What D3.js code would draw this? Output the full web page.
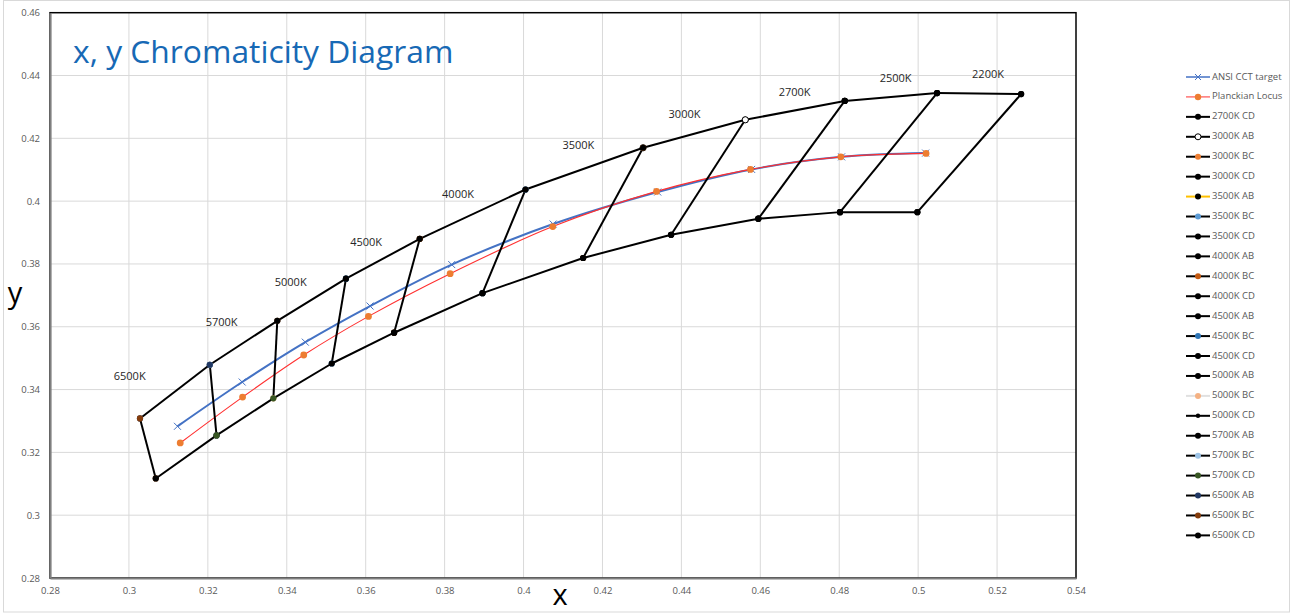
<!DOCTYPE html>
<html>
<head>
<meta charset="utf-8">
<script src="https://cdnjs.cloudflare.com/ajax/libs/d3/7.8.5/d3.min.js"></script>
<style>
  body { margin: 0; background: #fff; }
  svg { display: block; font-family: "Open Sans", sans-serif; }
</style>
</head>
<body>
<svg id="chart" width="1290" height="613"></svg>
<script>
// axis ticks
const xTicks = [0.28, 0.3, 0.32, 0.34, 0.36, 0.38, 0.4, 0.42, 0.44, 0.46, 0.48, 0.5, 0.52, 0.54]
const yTicks = [0.28, 0.3, 0.32, 0.34, 0.36, 0.38, 0.4, 0.42, 0.44, 0.46]

// ANSI CCT target (quadrangle centres), 6500K -> 2200K
const ansiX = [0.3123, 0.3287, 0.3447, 0.3611, 0.3818, 0.4075, 0.4340, 0.4578, 0.4806, 0.5019]
const ansiY = [0.3283, 0.3424, 0.3551, 0.3666, 0.3798, 0.3927, 0.4029, 0.4101, 0.4141, 0.4153]

// Planckian locus points
const plX = [0.3130, 0.3288, 0.3443, 0.3607, 0.3814, 0.4074, 0.4337, 0.4575, 0.4804, 0.5020]
const plY = [0.3230, 0.3376, 0.3510, 0.3633, 0.3769, 0.3919, 0.4031, 0.4101, 0.4141, 0.4152]

// quadrangle corners along the upper and lower boundary, cool -> warm
const topX = [0.3028, 0.3205, 0.3376, 0.3550, 0.3737, 0.4005, 0.4303, 0.4562, 0.4814, 0.5048, 0.5261]
const topY = [0.3308, 0.3479, 0.3619, 0.3753, 0.3880, 0.4037, 0.4170, 0.4259, 0.4319, 0.4344, 0.4341]
const botX = [0.3068, 0.3222, 0.3366, 0.3514, 0.3672, 0.3896, 0.4151, 0.4374, 0.4595, 0.4802, 0.4998]
const botY = [0.3117, 0.3254, 0.3372, 0.3483, 0.3581, 0.3707, 0.3819, 0.3893, 0.3944, 0.3965, 0.3965]

const cctNames = ["6500K", "5700K", "5000K", "4500K", "4000K", "3500K", "3000K", "2700K", "2500K", "2200K"]
const cctLabelX = [0.3002, 0.3235, 0.3410, 0.3601, 0.3834, 0.4139, 0.4408, 0.4687, 0.4943, 0.5177]
const cctLabelY = [0.3439, 0.3611, 0.3738, 0.3866, 0.4019, 0.4175, 0.4273, 0.4344, 0.4388, 0.4401]

// edge series, in drawing order (the first ones are not in the legend)
const hiddenSeries = ["2200K AB", "2200K BC", "2200K CD", "2200K DA", "2500K AB", "2500K BC", "2500K CD", "2700K AB", "2700K BC"]
const legendSeries = ["2700K CD", "3000K AB", "3000K BC", "3000K CD", "3500K AB", "3500K BC", "3500K CD",
  "4000K AB", "4000K BC", "4000K CD", "4500K AB", "4500K BC", "4500K CD", "5000K AB", "5000K BC", "5000K CD",
  "5700K AB", "5700K BC", "5700K CD", "6500K AB", "6500K BC", "6500K CD"]

const markerFill = {
  "3000K AB": "#ffffff", "3000K BC": "#ED7D31", "3500K BC": "#5B9BD5", "4000K BC": "#C55A11",
  "4500K BC": "#2E75B6", "5000K BC": "#F4B183", "5700K BC": "#9DC3E6", "5700K CD": "#385723",
  "6500K AB": "#203864", "6500K BC": "#843C0C"
}
const legendLine = { "3500K AB": "#FFC000", "5000K BC": "#E0E0E0" }

const W = 1290, H = 613
const svg = d3.select("#chart")

const x = d3.scaleLinear().domain([0.28, 0.54]).range([50, 1076])
const y = d3.scaleLinear().domain([0.28, 0.46]).range([578, 12.7])

// outer chart frame
svg.append("rect").attr("x", 3.5).attr("y", 0.5).attr("width", W - 4).attr("height", H - 1.5)
  .attr("fill", "#fff").attr("stroke", "#d9d9d9")

// gridlines
svg.append("g").selectAll("line").data(xTicks.slice(1, -1)).join("line")
  .attr("x1", d => x(d)).attr("x2", d => x(d)).attr("y1", y(0.46)).attr("y2", y(0.28))
  .attr("stroke", "#d9d9d9").attr("stroke-width", 1)
svg.append("g").selectAll("line").data(yTicks.slice(1, -1)).join("line")
  .attr("y1", d => y(d)).attr("y2", d => y(d)).attr("x1", x(0.28)).attr("x2", x(0.54))
  .attr("stroke", "#d9d9d9").attr("stroke-width", 1)

// plot border
svg.append("rect").attr("x", x(0.28)).attr("y", y(0.46))
  .attr("width", x(0.54) - x(0.28)).attr("height", y(0.28) - y(0.46))
  .attr("fill", "none").attr("stroke", "#000").attr("stroke-width", 1.5)

// axes
const xAxis = svg.append("g").attr("transform", `translate(0,${y(0.28)})`)
  .call(d3.axisBottom(x).tickValues(xTicks).tickFormat(d => String(d)).tickSize(0).tickPadding(9))
const yAxis = svg.append("g").attr("transform", `translate(${x(0.28)},0)`)
  .call(d3.axisLeft(y).tickValues(yTicks).tickFormat(d => String(d)).tickSize(0).tickPadding(10))
for (const a of [xAxis, yAxis]) {
  a.select(".domain").attr("stroke", "#7f7f7f").attr("stroke-width", 2.2)
  a.selectAll("text").attr("fill", "#595959").attr("font-size", "9.5px").attr("font-family", "Open Sans")
}

// ANSI target and Planckian locus
const smooth = d3.line().x(d => x(d[0])).y(d => y(d[1])).curve(d3.curveCatmullRom.alpha(0.5))
const ansiPts = ansiX.map((v, i) => [v, ansiY[i]])
const plPts = plX.map((v, i) => [v, plY[i]])

svg.append("path").attr("d", smooth(ansiPts)).attr("fill", "none")
  .attr("stroke", "#4472C4").attr("stroke-width", 2)
svg.append("g").selectAll("path").data(ansiPts).join("path")
  .attr("d", d => `M${x(d[0]) - 3.5},${y(d[1]) - 3.5}L${x(d[0]) + 3.5},${y(d[1]) + 3.5}M${x(d[0]) - 3.5},${y(d[1]) + 3.5}L${x(d[0]) + 3.5},${y(d[1]) - 3.5}`)
  .attr("stroke", "#4472C4").attr("stroke-width", 1)

svg.append("path").attr("d", smooth(plPts)).attr("fill", "none")
  .attr("stroke", "#FF3030").attr("stroke-width", 1.1)
svg.append("g").selectAll("circle").data(plPts).join("circle")
  .attr("cx", d => x(d[0])).attr("cy", d => y(d[1])).attr("r", 3.4).attr("fill", "#ED7D31")

// quadrangle edges
function edge(name) {
  const k = cctNames.indexOf(name.slice(0, 5))
  const A = [topX[k + 1], topY[k + 1]], B = [topX[k], topY[k]]
  const C = [botX[k], botY[k]], D = [botX[k + 1], botY[k + 1]]
  const e = name.slice(6)
  return e === "AB" ? [A, B] : e === "BC" ? [B, C] : e === "CD" ? [C, D] : [D, A]
}

// 5700K CD sits on top of 6500K CD in the original, so draw it last
const drawOrder = hiddenSeries.concat(legendSeries.filter(s => s !== "5700K CD"), ["5700K CD"])
const edgeG = svg.append("g")
for (const name of drawOrder) {
  const pts = edge(name)
  const g = edgeG.append("g")
  g.append("path").attr("d", d3.line().x(d => x(d[0])).y(d => y(d[1]))(pts))
    .attr("stroke", "#000").attr("stroke-width", 2).attr("fill", "none")
  g.selectAll("circle").data(pts).join("circle")
    .attr("cx", d => x(d[0])).attr("cy", d => y(d[1]))
    .attr("r", name === "5000K CD" ? 2.2 : 3.1)
    .attr("fill", markerFill[name] || "#000")
    .attr("stroke", markerFill[name] === "#ffffff" ? "#000" : "none")
}

// CCT labels
svg.append("g").selectAll("text").data(cctNames).join("text")
  .attr("x", (d, i) => x(cctLabelX[i])).attr("y", (d, i) => y(cctLabelY[i]))
  .attr("text-anchor", "middle").attr("dominant-baseline", "middle")
  .attr("font-size", "11px").attr("fill", "#262626").text(d => d)

// title and axis titles
svg.append("text").attr("x", 73).attr("y", 63).attr("font-size", "31.8px")
  .attr("fill", "#1769B5").text("x, y Chromaticity Diagram")
svg.append("text").attr("x", 560).attr("y", 605).attr("text-anchor", "middle")
  .attr("font-size", "29px").attr("fill", "#000").text("x")
svg.append("text").attr("x", 15).attr("y", 303).attr("text-anchor", "middle")
  .attr("font-size", "29px").attr("fill", "#000").text("y")

// legend
const legendItems = ["ANSI CCT target", "Planckian Locus"].concat(legendSeries)
const lg = svg.append("g")
legendItems.forEach((name, i) => {
  const ly = 77 + i * 19.93
  const g = lg.append("g").attr("transform", `translate(0,${ly})`)
  if (name === "ANSI CCT target") {
    g.append("line").attr("x1", 1186).attr("x2", 1210).attr("stroke", "#4472C4").attr("stroke-width", 1.5)
    g.append("path").attr("d", "M1195,-3L1201,3M1195,3L1201,-3").attr("stroke", "#4472C4").attr("stroke-width", 1)
  } else if (name === "Planckian Locus") {
    g.append("line").attr("x1", 1186).attr("x2", 1210).attr("stroke", "#FF3030").attr("stroke-width", 1)
    g.append("circle").attr("cx", 1198).attr("r", 3.2).attr("fill", "#ED7D31")
  } else {
    g.append("line").attr("x1", 1186).attr("x2", 1210)
      .attr("stroke", legendLine[name] || "#000").attr("stroke-width", 2)
    g.append("circle").attr("cx", 1198).attr("r", name === "5000K CD" ? 2.2 : 3)
      .attr("fill", markerFill[name] || "#000")
      .attr("stroke", markerFill[name] === "#ffffff" ? "#000" : "none")
  }
  g.append("text").attr("x", 1212).attr("y", 0).attr("dominant-baseline", "middle")
    .attr("font-size", "9.5px").attr("fill", "#595959").text(name)
})
</script>
</body>
</html>
